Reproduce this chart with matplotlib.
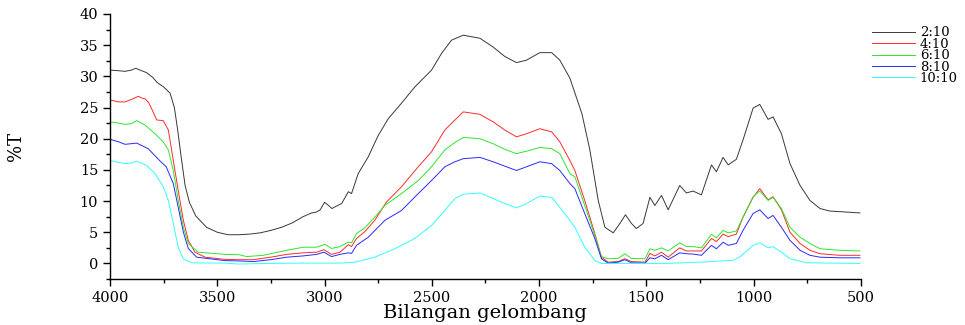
import numpy as np
import matplotlib
matplotlib.use("Agg")
import matplotlib.pyplot as plt
from matplotlib.ticker import MultipleLocator

# ---- data ----
wn_black = [4000, 3960, 3930, 3900, 3880, 3860, 3830, 3800, 3780, 3750, 3720, 3700, 3685, 3670, 3650,
            3630, 3600, 3550, 3500, 3450, 3400, 3350, 3300, 3250, 3200, 3150, 3100, 3060, 3040, 3020,
            3000, 2985, 2965, 2950, 2920, 2889, 2874, 2843, 2796, 2750, 2703, 2641, 2579, 2501, 2454,
            2408, 2353, 2275, 2214, 2160, 2105, 2058, 1996, 1941, 1903, 1856, 1800, 1763, 1724, 1693,
            1654, 1623, 1597, 1569, 1546, 1515, 1483, 1460, 1429, 1398, 1344, 1313, 1282, 1243, 1196,
            1173, 1142, 1118, 1080, 1049, 1002, 971, 932, 909, 870, 830, 783, 737, 690, 644, 597, 504]
t_black = [31.0, 30.9, 30.8, 31.0, 31.3, 31.0, 30.6, 29.8, 29.0, 28.3, 27.3, 25.0, 21.5, 17.5, 12.5,
           9.8, 7.6, 5.8, 5.0, 4.6, 4.6, 4.7, 4.9, 5.3, 5.8, 6.5, 7.5, 8.1, 8.2, 8.6,
           9.8, 9.4, 8.8, 9.1, 9.6, 11.5, 11.2, 14.4, 17.1, 20.5, 23.2, 25.7, 28.3, 31.0, 33.7,
           35.8, 36.6, 36.1, 34.7, 33.2, 32.2, 32.6, 33.8, 33.8, 32.6, 29.7, 24.0, 18.2, 10.1, 5.8,
           4.9, 6.4, 7.8, 6.4, 5.6, 6.4, 10.6, 9.3, 10.9, 8.6, 12.5, 11.3, 11.6, 11.0, 15.8,
           14.7, 17.0, 15.8, 16.7, 19.8, 24.9, 25.5, 23.1, 23.5, 20.8, 16.0, 12.5, 10.1, 8.8, 8.4, 8.3, 8.1]

wn_red = [4000, 3960, 3930, 3900, 3868, 3850, 3837, 3820, 3806, 3782, 3752, 3728, 3705, 3682, 3658,
          3635, 3604, 3557, 3464, 3400, 3332, 3250, 3177, 3100, 3037, 3003, 2967, 2928, 2889, 2874,
          2851, 2812, 2766, 2711, 2641, 2563, 2501, 2439, 2392, 2353, 2275, 2214, 2160, 2105, 2058,
          1996, 1941, 1903, 1856, 1833, 1787, 1740, 1709, 1678, 1631, 1600, 1569, 1506, 1483, 1460,
          1429, 1398, 1344, 1313, 1282, 1243, 1196, 1173, 1142, 1118, 1080, 1049, 1002, 971, 932,
          909, 870, 830, 783, 737, 690, 597, 504]
t_red = [26.2, 25.9, 25.9, 26.3, 26.8, 26.5, 26.4, 25.8, 24.8, 23.0, 22.9, 21.4, 16.5, 11.7, 6.9,
         3.7, 1.8, 1.0, 0.65, 0.6, 0.6, 1.0, 1.45, 1.7, 1.8, 2.2, 1.45, 1.8, 3.0, 2.7,
         4.0, 5.1, 6.9, 9.85, 12.3, 15.5, 17.9, 21.4, 23.0, 24.3, 23.9, 22.7, 21.4, 20.3, 20.8,
         21.6, 21.1, 19.5, 16.5, 14.9, 10.1, 4.8, 1.0, 0.2, 0.3, 0.75, 0.3, 0.2, 1.6, 1.2,
         1.8, 1.0, 2.5, 2.0, 2.0, 2.0, 4.0, 3.5, 4.7, 4.3, 4.7, 7.4, 10.6, 12.0, 10.2,
         10.7, 8.6, 5.0, 3.2, 2.1, 1.55, 1.3, 1.3]

wn_green = [4000, 3960, 3930, 3900, 3876, 3837, 3790, 3752, 3728, 3705, 3682, 3658, 3635, 3589, 3464,
            3400, 3363, 3286, 3177, 3099, 3037, 2998, 2967, 2928, 2889, 2874, 2851, 2812, 2766, 2719,
            2641, 2563, 2501, 2439, 2392, 2353, 2275, 2214, 2160, 2105, 2058, 1996, 1941, 1903, 1856,
            1833, 1787, 1740, 1709, 1678, 1631, 1600, 1569, 1506, 1483, 1460, 1429, 1398, 1344, 1313,
            1282, 1243, 1196, 1173, 1142, 1118, 1080, 1049, 1002, 971, 932, 909, 870, 830, 783,
            737, 690, 597, 504]
t_green = [22.7, 22.5, 22.3, 22.4, 22.9, 22.2, 20.8, 19.5, 18.2, 14.9, 10.1, 5.8, 3.2, 1.8, 1.45,
           1.4, 1.1, 1.3, 2.1, 2.6, 2.6, 3.05, 2.4, 2.7, 3.4, 3.3, 4.8, 5.7, 7.4, 9.3,
           11.2, 13.3, 15.5, 18.2, 19.4, 20.2, 20.0, 19.2, 18.3, 17.6, 18.0, 18.6, 18.4, 17.6, 14.4,
           13.9, 9.3, 4.5, 1.1, 0.75, 0.8, 1.55, 0.8, 0.75, 2.35, 2.1, 2.5, 2.0, 3.3, 2.7,
           2.7, 2.5, 4.66, 4.1, 5.3, 4.9, 5.2, 7.4, 10.7, 11.6, 10.1, 10.6, 8.8, 5.8, 4.2,
           3.2, 2.35, 2.1, 2.0]

wn_blue = [4000, 3960, 3930, 3900, 3876, 3822, 3769, 3738, 3705, 3682, 3658, 3635, 3596, 3464, 3400,
           3332, 3250, 3177, 3100, 3037, 3003, 2967, 2928, 2889, 2874, 2851, 2796, 2719, 2641, 2563,
           2501, 2439, 2392, 2353, 2275, 2214, 2160, 2105, 2058, 1996, 1941, 1903, 1856, 1833, 1787,
           1740, 1709, 1678, 1631, 1600, 1569, 1506, 1483, 1460, 1429, 1398, 1344, 1313, 1282, 1243,
           1196, 1173, 1142, 1118, 1080, 1049, 1002, 971, 932, 909, 870, 830, 783, 737, 690,
           597, 504]
t_blue = [19.9, 19.5, 19.1, 19.2, 19.3, 18.4, 16.5, 15.5, 12.8, 9.0, 5.0, 2.4, 1.0, 0.45, 0.4,
          0.3, 0.6, 1.0, 1.2, 1.45, 1.8, 1.1, 1.45, 1.7, 1.6, 2.9, 4.2, 6.9, 8.5, 11.2,
          13.3, 15.5, 16.3, 16.8, 17.0, 16.3, 15.6, 14.9, 15.5, 16.3, 16.0, 14.9, 12.8, 12.0, 8.0,
          4.0, 0.75, 0.05, 0.2, 0.6, 0.1, 0.05, 0.9, 0.75, 1.3, 0.6, 1.7, 1.55, 1.5, 1.3,
          2.9, 2.35, 3.4, 2.9, 3.2, 5.3, 8.0, 8.6, 7.2, 7.7, 5.8, 3.7, 2.1, 1.3, 1.0,
          0.9, 0.9]

wn_cyan = [4000, 3960, 3930, 3900, 3876, 3829, 3790, 3752, 3728, 3705, 3682, 3658, 3619, 3464, 3402,
           3262, 3100, 2928, 2858, 2766, 2672, 2579, 2501, 2439, 2392, 2353, 2275, 2214, 2160, 2105,
           2058, 1996, 1941, 1903, 1856, 1833, 1787, 1740, 1709, 1569, 1412, 1328, 1220, 1096, 1065,
           1002, 971, 932, 909, 870, 830, 752, 504]
t_cyan = [16.5, 16.2, 16.0, 16.1, 16.4, 15.7, 14.4, 12.3, 10.1, 6.4, 2.6, 0.75, 0.1, 0.05, -0.1,
          0.0, 0.05, 0.05, 0.2, 1.0, 2.35, 4.0, 6.1, 8.5, 10.4, 11.1, 11.3, 10.4, 9.6, 8.9,
          9.6, 10.8, 10.6, 9.0, 6.9, 5.8, 2.6, 0.5, 0.0, 0.0, 0.0, 0.1, 0.25, 0.5, 1.0,
          2.9, 3.3, 2.5, 2.7, 1.8, 0.75, 0.1, 0.0]

labels = ["2:10", "4:10", "6:10", "8:10", "10:10"]
colors = ["#383838", "#ff2a2a", "#2ee62e", "#2a2aff", "#30ffff"]
series = [(wn_black, t_black), (wn_red, t_red), (wn_green, t_green), (wn_blue, t_blue), (wn_cyan, t_cyan)]

plt.rcParams['font.family'] = ['DejaVu Serif']

fig = plt.figure(figsize=(9.65, 3.25), dpi=100)
ax = fig.add_axes([0.114, 0.1415, 0.778, 0.8155])

for (x, y), c, lab in zip(series, colors, labels):
    ax.plot(x, y, color=c, lw=0.7, label=lab)

ax.set_xlim(4000, 500)
ax.set_ylim(-2.5, 40)
ax.xaxis.set_major_locator(MultipleLocator(500))
ax.xaxis.set_minor_locator(MultipleLocator(250))
ax.yaxis.set_major_locator(MultipleLocator(5))
ax.yaxis.set_minor_locator(MultipleLocator(2.5))
ax.set_yticks(np.arange(0, 41, 5))
for s in ["top", "right"]:
    ax.spines[s].set_visible(False)
for s in ["left", "bottom"]:
    ax.spines[s].set_linewidth(1.0)
ax.tick_params(which='major', direction='out', length=5, width=1, labelsize=10.5)
ax.tick_params(which='minor', direction='out', length=3, width=1)

ax.set_xlabel("Bilangan gelombang", fontsize=14)
ax.xaxis.set_label_coords(0.5, -0.095)
ax.set_ylabel("%T", fontsize=13)
ax.yaxis.set_label_coords(-0.113, 0.5)

fig.legend(loc='upper right', bbox_to_anchor=(0.998, 0.935), frameon=False, fontsize=9.5,
           handlelength=3.2, handletextpad=0.4, labelspacing=-0.12, borderaxespad=0.0)

fig.savefig("out.png", dpi=100)
